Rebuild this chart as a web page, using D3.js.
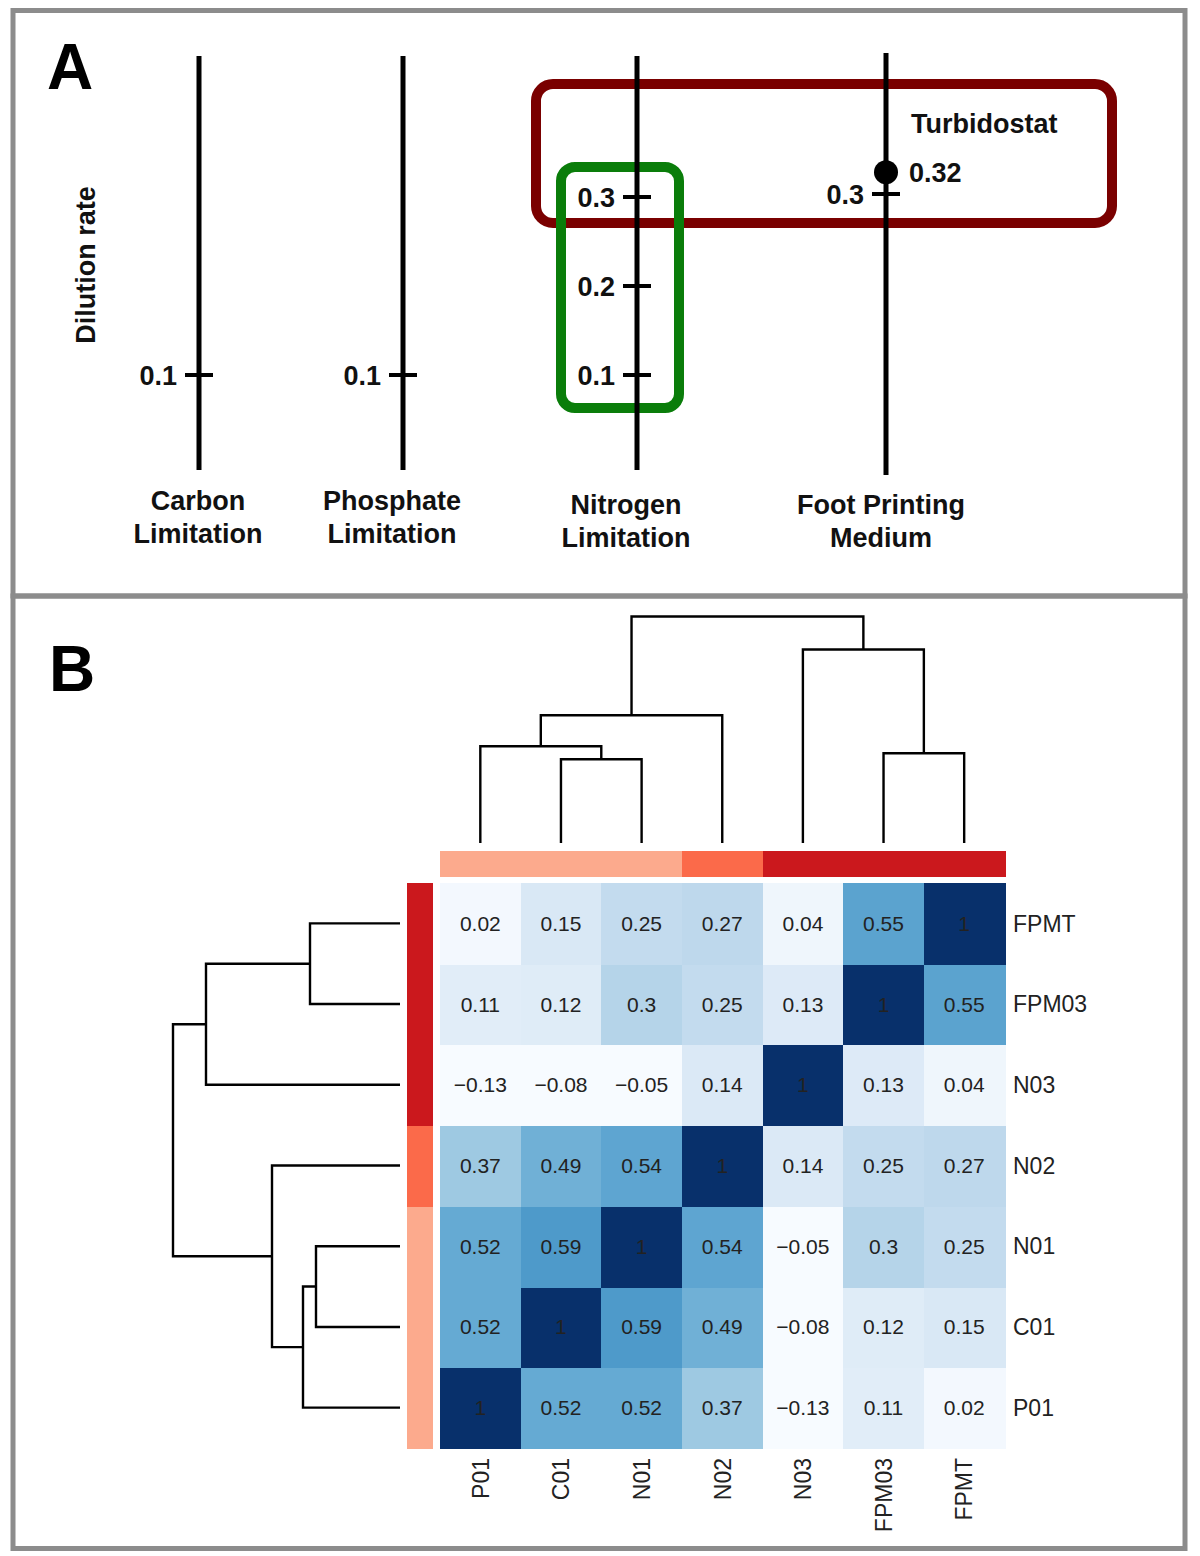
<!DOCTYPE html>
<html>
<head>
<meta charset="utf-8">
<script src="https://cdn.jsdelivr.net/npm/d3@7"></script>
<style>
  html, body { margin: 0; padding: 0; background: #fff; }
  svg { display: block; }
  text { font-family: "Liberation Sans", Arial, sans-serif; }
</style>
</head>
<body>
<svg id="chart" width="1200" height="1556"></svg>
<script>
// ---------------- DATA ----------------
// Panel A
const conditions = ["Carbon Limitation", "Phosphate Limitation", "Nitrogen Limitation", "Foot Printing Medium"];
const conditionLines = [["Carbon", "Limitation"], ["Phosphate", "Limitation"], ["Nitrogen", "Limitation"], ["Foot Printing", "Medium"]];
const dilutionTicks = [[0.1], [0.1], [0.1, 0.2, 0.3], [0.3]];
const turbidostatRate = 0.32;
const turbidostatLabel = "Turbidostat";
const yAxisTitle = "Dilution rate";

// Panel B
const samples = ["P01", "C01", "N01", "N02", "N03", "FPM03", "FPMT"];
const sampleGroups = ["G1", "G1", "G1", "G2", "G3", "G3", "G3"];
const corrP01   = [1, 0.52, 0.52, 0.37, -0.13, 0.11, 0.02];
const corrC01   = [0.52, 1, 0.59, 0.49, -0.08, 0.12, 0.15];
const corrN01   = [0.52, 0.59, 1, 0.54, -0.05, 0.3, 0.25];
const corrN02   = [0.37, 0.49, 0.54, 1, 0.14, 0.25, 0.27];
const corrN03   = [-0.13, -0.08, -0.05, 0.14, 1, 0.13, 0.04];
const corrFPM03 = [0.11, 0.12, 0.3, 0.25, 0.13, 1, 0.55];
const corrFPMT  = [0.02, 0.15, 0.25, 0.27, 0.04, 0.55, 1];
// linkage (scipy style): [childA, childB, height]; leaves 0..6, clusters 7..
const linkage = [[1, 2, 0.84], [5, 6, 0.90], [0, 7, 0.97], [9, 3, 1.28], [4, 8, 1.94], [10, 11, 2.27]];

// ---------------- DRAW ----------------
const svg = d3.select("#chart");
svg.append("rect").attr("width", 1200).attr("height", 1556).attr("fill", "#fff");

// Panel frames
const frameColor = "#8c8c8c";
svg.append("rect").attr("x", 13).attr("y", 10.5).attr("width", 1172).attr("height", 585.5)
  .attr("fill", "none").attr("stroke", frameColor).attr("stroke-width", 5);
svg.append("rect").attr("x", 13).attr("y", 596).attr("width", 1172).attr("height", 952.5)
  .attr("fill", "none").attr("stroke", frameColor).attr("stroke-width", 5);

// Panel letters
svg.append("text").attr("x", 47).attr("y", 89).attr("font-size", 64).attr("font-weight", "bold")
  .attr("fill", "#000").text("A");
svg.append("text").attr("x", 49).attr("y", 691).attr("font-size", 64).attr("font-weight", "bold")
  .attr("fill", "#000").text("B");

// ---------- Panel A ----------
const gA = svg.append("g");
const xA = d3.scaleOrdinal(conditions, [199, 403, 637, 886]);
const yA = d3.scaleLinear().domain([0, 0.4]).range([464, 108]);
const axisShift = d3.scaleOrdinal(conditions, [0, 0, 0, -3]);
const labelShift = d3.scaleOrdinal(conditions, [-1, -11, -11, -5]);

// red (turbidostat) box
const nitro = conditions[2], foot = conditions[3];
const redX0 = xA(nitro) - 101, redX1 = xA(foot) + 226;
const redY0 = yA(0.3) - 113, redY1 = yA(0.3) + 26;
gA.append("rect").attr("x", redX0).attr("y", redY0).attr("width", redX1 - redX0).attr("height", redY1 - redY0)
  .attr("rx", 17).attr("fill", "none").attr("stroke", "#7a0000").attr("stroke-width", 10);

// green (chemostat nitrogen series) box
const nt = dilutionTicks[2];
const grX0 = xA(nitro) - 76, grX1 = xA(nitro) + 42;
const grY0 = yA(d3.max(nt)) - 30, grY1 = yA(d3.min(nt)) + 33;
gA.append("rect").attr("x", grX0).attr("y", grY0).attr("width", grX1 - grX0).attr("height", grY1 - grY0)
  .attr("rx", 14).attr("fill", "none").attr("stroke", "#0a7d0a").attr("stroke-width", 10);

// axes
conditions.forEach((c, i) => {
  const x = xA(c), s = axisShift(c);
  gA.append("line").attr("x1", x).attr("x2", x)
    .attr("y1", 56 + (i === 3 ? -3 : 0)).attr("y2", 470 + (i === 3 ? 5 : 0))
    .attr("stroke", "#000").attr("stroke-width", 5);
  dilutionTicks[i].forEach(v => {
    const y = yA(v) + s;
    gA.append("line").attr("x1", x - 14).attr("x2", x + 14).attr("y1", y).attr("y2", y)
      .attr("stroke", "#000").attr("stroke-width", 4);
    gA.append("text").attr("x", x - 22).attr("y", y).attr("dy", "0.36em")
      .attr("text-anchor", "end").attr("font-size", 27).attr("font-weight", "bold")
      .attr("fill", "#111").text(d3.format(".1f")(v));
  });
  const lines = conditionLines[i];
  lines.forEach((t, k) => {
    gA.append("text").attr("x", x + labelShift(c)).attr("y", 500 + (i >= 2 ? 4 : 0) + k * 33)
      .attr("dy", "0.36em").attr("text-anchor", "middle").attr("font-size", 27)
      .attr("font-weight", "bold").attr("fill", "#111").text(t);
  });
});

// turbidostat point
const ty = yA(turbidostatRate) + axisShift(foot) - 4;
gA.append("circle").attr("cx", xA(foot)).attr("cy", ty).attr("r", 12).attr("fill", "#000");
gA.append("text").attr("x", xA(foot) + 23).attr("y", ty).attr("dy", "0.36em")
  .attr("font-size", 27).attr("font-weight", "bold").attr("fill", "#111").text(d3.format(".2f")(turbidostatRate));
gA.append("text").attr("x", xA(foot) + 25).attr("y", ty - 49).attr("dy", "0.36em")
  .attr("font-size", 27).attr("font-weight", "bold").attr("fill", "#111").text(turbidostatLabel);

// y title
gA.append("text").attr("transform", "translate(85,265) rotate(-90)").attr("dy", "0.36em")
  .attr("text-anchor", "middle").attr("font-size", 27).attr("font-weight", "bold")
  .attr("fill", "#111").text(yAxisTitle);

// ---------- Panel B ----------
const gB = svg.append("g");
const corr = [corrP01, corrC01, corrN01, corrN02, corrN03, corrFPM03, corrFPMT];
const xB = d3.scaleBand(samples, [440, 1004.5]);
const yB = d3.scaleBand(samples.slice().reverse(), [883, 1448]);
const color = d3.scaleSequential(d3.interpolateBlues).domain([0, 1]).clamp(true);
const groupColor = d3.scaleOrdinal(["G1", "G2", "G3"], ["#fcaa8d", "#fb6a4a", "#cb181d"]);
const fmt = d3.format(".2~f");

const cells = [];
samples.forEach((r, i) => samples.forEach((c, j) => cells.push({ r, c, v: corr[i][j] })));

gB.selectAll("rect.cell").data(cells).join("rect").attr("class", "cell")
  .attr("x", d => xB(d.c)).attr("y", d => yB(d.r))
  .attr("width", xB.bandwidth() + 1).attr("height", yB.bandwidth() + 1)
  .attr("shape-rendering", "crispEdges")
  .attr("fill", d => color(d.v));

gB.selectAll("text.ann").data(cells).join("text").attr("class", "ann")
  .attr("x", d => xB(d.c) + xB.bandwidth() / 2).attr("y", d => yB(d.r) + yB.bandwidth() / 2)
  .attr("dy", "0.36em").attr("text-anchor", "middle").attr("font-size", 21)
  .attr("fill", "#222").text(d => fmt(d.v));

// group color bars
gB.selectAll("rect.colbar").data(samples).join("rect").attr("class", "colbar")
  .attr("x", d => xB(d)).attr("y", 851).attr("width", xB.bandwidth() + 1).attr("height", 26)
  .attr("shape-rendering", "crispEdges")
  .attr("fill", (d, i) => groupColor(sampleGroups[i]));
gB.selectAll("rect.rowbar").data(samples).join("rect").attr("class", "rowbar")
  .attr("x", 407).attr("y", d => yB(d)).attr("width", 26).attr("height", yB.bandwidth() + 1)
  .attr("shape-rendering", "crispEdges")
  .attr("fill", (d, i) => groupColor(sampleGroups[i]));

// labels
gB.selectAll("text.rlab").data(samples).join("text").attr("class", "rlab")
  .attr("x", 1013).attr("y", d => yB(d) + yB.bandwidth() / 2).attr("dy", "0.36em")
  .attr("font-size", 23).attr("fill", "#222").text(d => d);
gB.selectAll("text.clab").data(samples).join("text").attr("class", "clab")
  .attr("transform", d => `translate(${xB(d) + xB.bandwidth() / 2},1458) rotate(-90)`)
  .attr("dy", "0.36em").attr("text-anchor", "end")
  .attr("font-size", 23).attr("fill", "#222").text(d => d);

// dendrograms
const heights = samples.map(() => 0);
const colPos = samples.map(s => xB(s) + xB.bandwidth() / 2);
const rowPos = samples.map(s => yB(s) + yB.bandwidth() / 2);
linkage.forEach(([a, b, h]) => {
  heights.push(h);
  colPos.push((colPos[a] + colPos[b]) / 2);
  rowPos.push((rowPos[a] + rowPos[b]) / 2);
});
const hTop = d3.scaleLinear().domain([0, d3.max(linkage, d => d[2])]).range([843, 616.5]);
const hLeft = d3.scaleLinear().domain([0, d3.max(linkage, d => d[2])]).range([400, 173]);

const dendro = gB.append("g").attr("fill", "none").attr("stroke", "#000").attr("stroke-width", 2.4);
linkage.forEach(([a, b, h]) => {
  const pTop = d3.path();
  pTop.moveTo(colPos[a], hTop(heights[a]));
  pTop.lineTo(colPos[a], hTop(h));
  pTop.lineTo(colPos[b], hTop(h));
  pTop.lineTo(colPos[b], hTop(heights[b]));
  dendro.append("path").attr("d", pTop.toString());
  const pLeft = d3.path();
  pLeft.moveTo(hLeft(heights[a]), rowPos[a]);
  pLeft.lineTo(hLeft(h), rowPos[a]);
  pLeft.lineTo(hLeft(h), rowPos[b]);
  pLeft.lineTo(hLeft(heights[b]), rowPos[b]);
  dendro.append("path").attr("d", pLeft.toString());
});
</script>
</body>
</html>
